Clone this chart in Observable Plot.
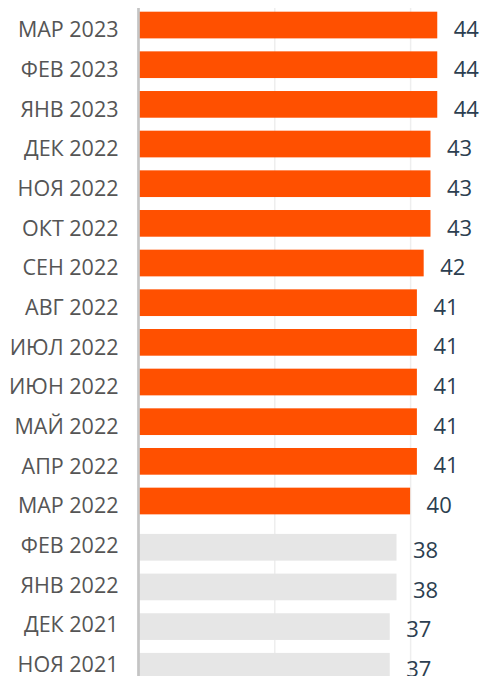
<!DOCTYPE html>
<html>
<head>
<meta charset="utf-8">
<script src="https://cdn.jsdelivr.net/npm/d3@7"></script>
<script src="https://cdn.jsdelivr.net/npm/@observablehq/plot@0.6"></script>
<style>
  html, body { margin: 0; padding: 0; background: #fff; }
  #chart svg { display: block; }
</style>
</head>
<body>
<div id="chart"></div>
<script>
const months = ["МАР 2023","ФЕВ 2023","ЯНВ 2023","ДЕК 2022","НОЯ 2022","ОКТ 2022","СЕН 2022","АВГ 2022","ИЮЛ 2022","ИЮН 2022","МАЙ 2022","АПР 2022","МАР 2022","ФЕВ 2022","ЯНВ 2022","ДЕК 2021","НОЯ 2021"];
const values = [44,44,44,43,43,43,42,41,41,41,41,41,40,38,38,37,37];
const highlightedCount = 13; // МАР 2022 onward are highlighted
const gridTicks = [20, 40];

const data = months.map((m, i) => ({month: m, value: values[i], hi: i < highlightedCount}));
const hiData = data.filter(d => d.hi);
const loData = data.filter(d => !d.hi);

const font = "'Open Sans', sans-serif";
const grayShift = 6.6;

const chart = Plot.plot({
  width: 485,
  height: 690,
  marginTop: 8,
  marginBottom: 13.3,
  marginLeft: 138.5,
  marginRight: 7,
  style: {fontFamily: font, background: "#fff"},
  x: {domain: [0, 50], axis: null},
  y: {domain: months, paddingInner: 0.327, paddingOuter: 0.093, round: false, axis: null},
  marks: [
    Plot.ruleX(gridTicks, {stroke: "#eeeeee", strokeWidth: 1.5}),
    Plot.barX(hiData, {y: "month", x: "value", fill: "#ff5000"}),
    Plot.barX(loData, {y: "month", x: "value", fill: "#e6e6e6", dy: grayShift}),
    Plot.ruleX([0], {stroke: "#c4c4c4", strokeWidth: 2.7, dx: -0.5}),
    Plot.text(data, {y: "month", x: 0, text: "month", textAnchor: "end", dx: -20.5, dy: 5, fontSize: 21.5, fill: "#555"}),
    Plot.text(hiData, {y: "month", x: "value", text: d => String(d.value), textAnchor: "start", dx: 16, dy: 4.6, fontSize: 22, fill: "#2c3e50"}),
    Plot.text(loData, {y: "month", x: "value", text: d => String(d.value), textAnchor: "start", dx: 16, dy: 9.7, fontSize: 22, fill: "#2c3e50"})
  ]
});
document.getElementById("chart").appendChild(chart);
</script>
</body>
</html>
